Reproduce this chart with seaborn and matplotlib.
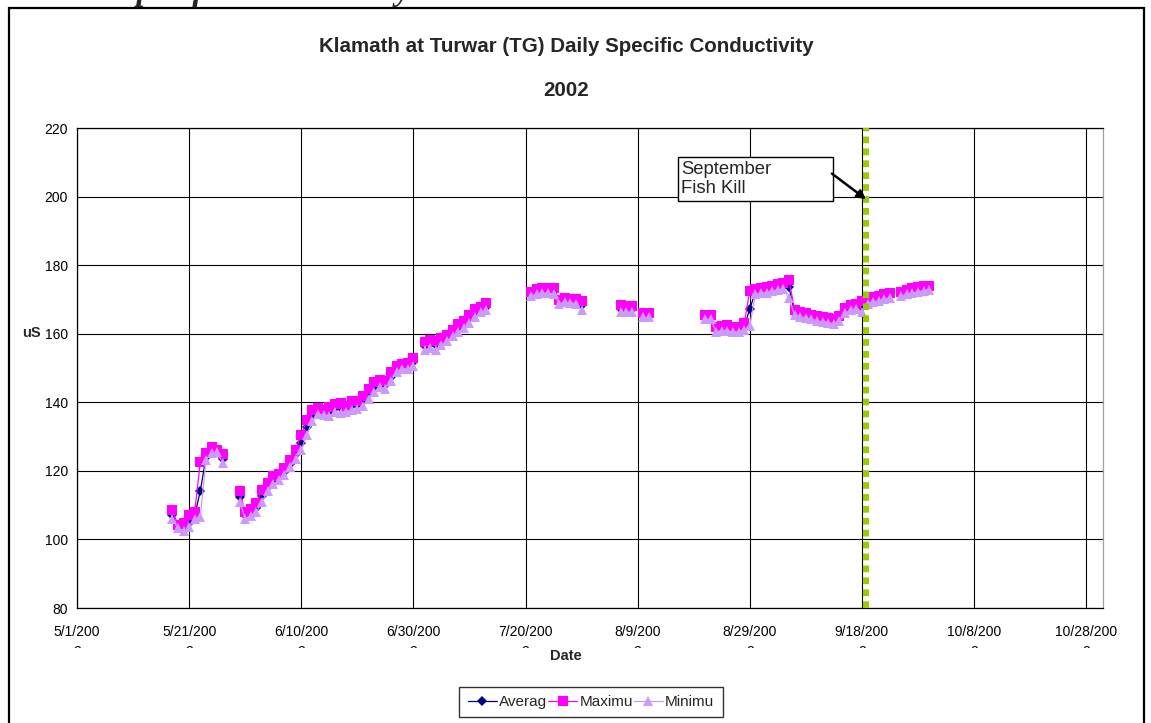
import numpy as np
import pandas as pd
import matplotlib
matplotlib.use("Agg")
import matplotlib.pyplot as plt
import matplotlib.dates as mdates
from matplotlib.lines import Line2D
from matplotlib.patches import Rectangle
from matplotlib.transforms import Bbox, TransformedBbox
import seaborn as sns

# ---- daily readings (uS), grouped by the runs of days that have data ----
reading_periods = [
    ("2002-05-18", "2002-05-27"),
    ("2002-05-30", "2002-06-30"),
    ("2002-07-02", "2002-07-13"),
    ("2002-07-21", "2002-07-30"),
    ("2002-08-06", "2002-08-08"),
    ("2002-08-10", "2002-08-11"),
    ("2002-08-21", "2002-09-23"),
    ("2002-09-25", "2002-09-30"),
]

average = [
    107.2, 103.8, 103.4, 104.8, 107.0, 114.2, 124.0, 126.0, 125.8, 123.6,
    112.5, 107.0, 107.8, 109.2, 112.6, 115.2, 117.4, 118.1, 119.7, 122.0,
    124.8, 128.2, 132.7, 136.0, 137.3, 137.0, 137.2, 138.3, 138.4, 138.1,
    139.1, 139.1, 140.3, 142.4, 144.5, 145.5, 145.1, 147.5, 149.6, 150.5,
    150.6, 151.7,
    156.5, 157.0, 156.6, 157.7, 158.7, 160.1, 161.6, 162.8, 164.3, 166.1,
    167.0, 167.8,
    171.7, 172.3, 172.5, 172.5, 172.4, 169.3, 169.8, 169.6, 169.4, 168.3,
    167.3, 167.1, 167.2,
    165.5, 165.5,
    164.8, 164.8, 161.3, 161.5, 161.6, 161.3, 161.1, 162.1,
    167.2, 172.2, 172.5, 172.8, 173.2, 173.6, 173.8, 173.5,
    166.1, 165.7, 165.2, 164.8, 164.5, 164.1, 163.9, 163.5,
    164.4, 166.8, 167.5, 168.0, 167.9, 169.5, 170.0, 170.3, 170.7, 171.2,
    171.6, 172.1, 172.5, 172.8, 173.1, 173.4,
]

maximum = [
    108.5, 104.3, 104.7, 107.1, 108.1, 122.7, 125.3, 127.0, 126.1, 124.9,
    114.2, 108.0, 108.8, 110.5, 114.4, 116.5, 118.5, 119.0, 120.7, 123.2,
    126.1, 130.5, 134.8, 137.7, 138.2, 137.8, 138.5, 139.5, 139.8, 139.0,
    140.5, 140.3, 141.7, 143.8, 146.0, 146.5, 146.2, 148.9, 150.5, 151.2,
    151.4, 152.8,
    157.7, 158.2, 158.0, 158.7, 159.6, 161.1, 162.7, 163.8, 165.5, 167.2,
    167.9, 168.9,
    172.3, 172.9, 173.2, 173.2, 173.2, 169.8, 170.4, 170.2, 170.0, 169.6,
    168.4, 168.0, 168.2,
    166.0, 166.1,
    165.5, 165.5, 162.0, 162.3, 162.4, 162.1, 161.9, 163.0,
    172.5, 173.0, 173.3, 173.6, 174.0, 174.5, 174.7, 175.6,
    166.9, 166.4, 165.9, 165.5, 165.2, 164.9, 164.6, 164.2,
    165.2, 167.6, 168.3, 168.8, 169.5, 170.3, 170.8, 171.1, 171.5, 172.0,
    172.3, 172.8, 173.2, 173.5, 173.8, 174.0,
]

minimum = [
    106.1, 103.2, 102.6, 103.5, 106.1, 106.6, 123.2, 125.1, 125.6, 122.2,
    111.0, 106.1, 106.8, 108.0, 111.0, 114.0, 116.2, 117.2, 118.8, 121.0,
    123.5, 126.0, 130.5, 134.5, 136.5, 136.2, 136.0, 137.2, 137.0, 137.2,
    137.8, 138.0, 139.0, 141.0, 143.0, 144.5, 144.0, 146.2, 148.8, 149.8,
    149.8, 150.5,
    155.2, 155.8, 155.2, 156.8, 157.8, 159.2, 160.5, 161.8, 163.2, 165.0,
    166.2, 166.8,
    171.0, 171.6, 171.8, 171.8, 171.6, 168.8, 169.2, 169.0, 168.8, 166.8,
    166.3, 166.2, 166.2,
    164.9, 164.9,
    164.2, 164.2, 160.6, 160.8, 160.8, 160.6, 160.4, 161.2,
    162.3, 171.5, 171.8, 172.0, 172.4, 172.8, 173.0, 170.3,
    165.4, 165.0, 164.6, 164.2, 163.8, 163.4, 163.2, 162.9,
    163.6, 166.0, 166.8, 167.2, 166.4, 168.8, 169.3, 169.6, 170.0, 170.5,
    171.0, 171.5, 171.9, 172.2, 172.5, 172.8,
]

series_names = ["Averag", "Maximu", "Minimu"]
series_colors = ["#000080", "#FF00FF", "#CC99FF"]
series_markers = ["D", "s", "^"]
series_msize = [4.8, 6.8, 7.0]

y_ticks = [80, 100, 120, 140, 160, 180, 200, 220]
x_tick_start = "2002-05-01"
x_range = ("2002-05-01", "2002-10-31")
kill_time = "2002-09-18 18:00"
kill_label = "September\nFish Kill"

# ---- assemble a long table, one run id per unbroken stretch of days ----
dates, runs = [], []
for k, (a, b) in enumerate(reading_periods):
    rng = pd.date_range(a, b, freq="D")
    dates.extend(rng)
    runs.extend([k] * len(rng))

frames = []
for name, vals in zip(series_names, [average, maximum, minimum]):
    frames.append(pd.DataFrame({"Date": dates, "uS": vals, "series": name, "run": runs}))
df = pd.concat(frames, ignore_index=True)

# ---- styling ----
sns.set_style("white")
plt.rcParams["font.family"] = ["Liberation Sans", "DejaVu Sans"]

W, H = 1151, 723
fig = plt.figure(figsize=(W / 100, H / 100), dpi=100)
fig.patch.set_facecolor("white")
ax = fig.add_axes([77 / W, 1 - 608 / H, (1103 - 77) / W, (608 - 128) / H])

for name, col, mk, ms in zip(series_names, series_colors, series_markers, series_msize):
    sns.lineplot(
        data=df[df["series"] == name], x="Date", y="uS", units="run",
        estimator=None, color=col, marker=mk, markersize=ms,
        markeredgewidth=0, linewidth=0.9, ax=ax, legend=False,
    )

# fish-kill marker line
kt = pd.Timestamp(kill_time)
ax.axvline(kt, color="#99CC00", lw=4.4, linestyle=(0, (1.1, 0.85)),
           dash_capstyle="butt", zorder=5)

# axes limits, ticks, grid
ax.set_xlim(pd.Timestamp(x_range[0]), pd.Timestamp(x_range[1]))
ax.set_ylim(y_ticks[0], y_ticks[-1])
ax.set_yticks(y_ticks)
xt = pd.date_range(x_tick_start, periods=10, freq="20D")
ax.set_xticks(xt)
labels = []
for t in xt:
    s = f"{t.month}/{t.day}/{t.year}"
    labels.append(s[:-1] + "\n" + s[-1])
ax.set_xticklabels(labels, fontsize=10, linespacing=1.55)
ax.tick_params(axis="x", direction="out", length=5, width=0.8, pad=7, colors="black")
ax.tick_params(axis="y", direction="out", length=5, width=0.8, pad=1.5, labelsize=10, colors="black")
ax.set_xlabel("")
ax.set_ylabel("")
ax.grid(True, color="black", lw=0.8)
ax.set_axisbelow(True)
for side in ["left", "bottom", "top"]:
    ax.spines[side].set_color("black")
    ax.spines[side].set_linewidth(0.9)
ax.spines["right"].set_color("#a0a0a0")
ax.spines["right"].set_linewidth(0.9)

# only the top sliver of the second label line shows
clip = TransformedBbox(Bbox.from_extents(0, (H - 647.5) / H, 1, 1), fig.transFigure)
for lab in ax.get_xticklabels():
    lab.set_clip_box(clip)
    lab.set_clip_on(True)

# annotation box with arrow
ax.add_patch(Rectangle((0.5858, 0.8479), 0.151, 0.0917, transform=ax.transAxes,
                       fill=True, fc="white", ec="black", lw=1.0, zorder=6))
ax.text(0.5887, 0.8935, kill_label, transform=ax.transAxes, fontsize=13.3,
        va="center", ha="left", linespacing=1.15, zorder=7)
ax.annotate("", xy=(kt, 199.2), xytext=(0.7358, 0.9050),
            textcoords="axes fraction",
            arrowprops=dict(arrowstyle="-|>", color="black", lw=1.8,
                            mutation_scale=13, shrinkA=0, shrinkB=0),
            zorder=7)

# titles and axis names
fig.text(566 / W, 1 - 47 / H, "Klamath at Turwar (TG) Daily Specific Conductivity",
         ha="center", va="center", fontsize=14.8, fontweight="bold")
fig.text(566 / W, 1 - 90 / H, "2002", ha="center", va="center",
         fontsize=14.8, fontweight="bold")
fig.text(31 / W, 1 - 333 / H, "uS", ha="center", va="center",
         fontsize=10.5, fontweight="bold")
fig.text(566 / W, 1 - 656 / H, "Date", ha="center", va="center",
         fontsize=10.5, fontweight="bold")

# legend
handles = [Line2D([0], [0], color=c, marker=m, markersize=s, markeredgewidth=0, lw=0.9)
           for c, m, s in zip(series_colors, series_markers, series_msize)]
leg = fig.legend(handles, series_names, loc="center", ncol=3,
                 bbox_to_anchor=(591 / W, 1 - 702 / H), fontsize=11,
                 frameon=True, fancybox=False, edgecolor="black",
                 handlelength=1.9, handletextpad=0.15, columnspacing=0.05,
                 borderpad=0.55, borderaxespad=0)
leg.get_frame().set_linewidth(1.0)

# page frame and clipped caption above it
fig.add_artist(Rectangle((8.5 / W, -0.1), (1144 - 8.5) / W, 1.1 - 8.5 / H,
                         transform=fig.transFigure, fill=False, ec="black", lw=1.6))
fig.text(118 / W, 1.0, "Specific Conductivity", ha="left", va="baseline",
         fontsize=24, fontweight="bold", fontstyle="italic",
         family=["Liberation Serif", "DejaVu Serif"])

fig.savefig("out.png", dpi=100)
